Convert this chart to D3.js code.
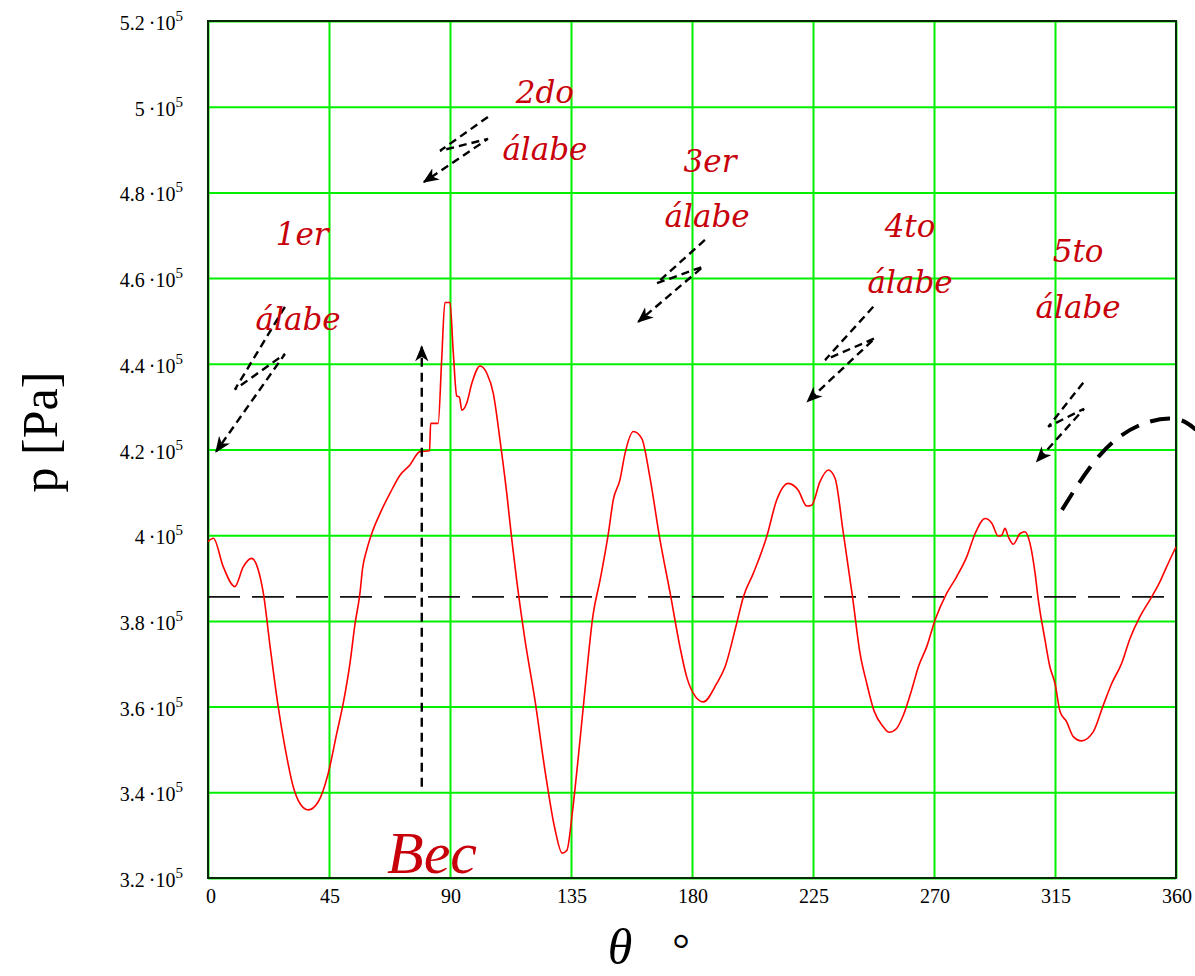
<!DOCTYPE html>
<html>
<head>
<meta charset="utf-8">
<script src="https://cdn.jsdelivr.net/npm/d3@7"></script>
<style>
  body { margin: 0; background: #fff; }
  svg { display: block; }
  .tick-label { font-family: "Liberation Serif", "Times New Roman", serif; fill: #000; }
  .blade { font-family: "DejaVu Serif", serif; font-style: italic; fill: #c8000a; font-size: 31px; }
</style>
</head>
<body>
<div id="chart"></div>
<script>
// Angle (deg) and pressure (Pa)
const theta = [0, 2, 5.7, 10, 13.1, 16.2, 18.7, 20.6, 23.1, 26.1, 28.6, 31.7, 34.2, 37.3, 41, 44.7,
  47.9, 50.3, 52.8, 54.7, 56.5, 57.5, 59, 60.9, 64, 67.7, 71.4, 75.1, 78.8, 82.4, 82.8, 85.6,
  86.9, 88.1, 90, 91.2, 92.5, 93.5, 94.4, 96.2, 98.1, 101.2, 103.7, 106.1, 108.6, 111.1, 113, 114.8,
  117.9, 121.6, 125.3, 129.1, 131.7, 133.5, 135.4, 137.6, 140.2, 143.2, 145.8, 148.9, 150.7, 153.2,
  155.1, 158.2, 161.3, 164.4, 168.1, 171.9, 175.5, 178, 180.5, 184.2, 189.2, 192.3, 196.6, 199.1,
  202.8, 207.8, 211.5, 215.8, 219.5, 222.7, 224.5, 227.6, 230.7, 233.2, 236.3, 239.7, 242.5, 245,
  247.7, 251.1, 253.3, 256.1, 258.6, 261.7, 264.2, 267.3, 270.4, 274.7, 278.4, 282.2, 285.3, 289,
  291.5, 293.9, 295.2, 296.4, 297.6, 299.5, 302, 303.8, 305.7, 307.6, 308.8, 311.3, 313.1, 315,
  316.9, 319.3, 321.8, 324.9, 329.2, 333, 336.1, 339.8, 342.9, 346.6, 350.3, 354, 356.5, 360];
const pressure = [398500, 399300, 392600, 388000, 392600, 394600, 391900, 386400, 374000, 360000,
  350600, 341300, 337400, 335900, 337800, 344400, 353800, 360800, 370100, 379400, 386400, 392300,
  396500, 400400, 405100, 409800, 414000, 416400, 419500, 419700, 426100, 426100, 440900, 454300,
  454300, 442800, 432500, 432200, 429200, 430800, 435400, 439500, 437800, 433100, 422200, 409800,
  398900, 389500, 375500, 361500, 345200, 331200, 325800, 326500, 334700, 347500, 363900, 381400,
  389500, 400400, 408200, 412900, 419100, 424200, 422600, 413300, 398900, 386400, 374000, 367000,
  363100, 361100, 365400, 369300, 379400, 385600, 391100, 399700, 408200, 412100, 410500, 406800,
  407000, 412500, 415200, 413300, 400400, 385600, 372400, 365400, 359000, 355300, 354000, 354900,
  358000, 363900, 369300, 374000, 380200, 386400, 390300, 395000, 400400, 403900, 402800, 399800,
  400000, 401600, 399700, 397900, 400400, 400800, 398100, 391100, 384900, 375500, 369300, 365400,
  358800, 356500, 353000, 352000, 354100, 360400, 365400, 370100, 375900, 381000, 384900, 389100,
  392600, 397300];

const xTicks = [0, 45, 90, 135, 180, 225, 270, 315, 360];
const yTicks = [3.2, 3.4, 3.6, 3.8, 4, 4.2, 4.4, 4.6, 4.8, 5, 5.2];
const meanPressure = 385600;

// blade annotations: text, label position (deg, Pa) for both lines, and arrow path
const bladeNames = ["1er", "2do", "3er", "4to", "5to"];
const bladeWord = "álabe";
const bladeLine1 = [[35, 467700], [125.3, 500900], [186.7, 484800], [261.1, 469600], [323.6, 463800]];
const bladeLine2 = [[33.5, 447900], [125.3, 487600], [185.6, 471900], [261.1, 456500], [323.6, 450700]];
const bladeArrows = [
  [[28.6, 453300], [10, 434000], [28.6, 442300], [3, 419500]],
  [[104.1, 497600], [86.3, 489700], [104.1, 492500], [80.3, 482400]],
  [[184.8, 468900], [166.9, 458800], [184.2, 462700], [160, 449800]],
  [[247.4, 453300], [229.5, 440900], [248.1, 446000], [222.9, 431200]],
  [[325.5, 435600], [312.5, 425300], [325.8, 429500], [308.2, 417200]]
];
const arcPoints = [[317.6, 405900], [331.7, 418700], [346.6, 425700], [360, 427100], [367.4, 424600]];
const becArrow = [[79.5, 341300], [79.5, 444000]];
const becLabel = [83.3, 321200];

const margin = {top: 21, right: 19, bottom: 98, left: 208};
const W = 1195, H = 976;
const width = W - margin.left - margin.right;
const height = H - margin.top - margin.bottom;

const svg = d3.select("#chart").append("svg")
  .attr("width", W).attr("height", H);

const defs = svg.append("defs");
defs.append("marker")
  .attr("id", "head")
  .attr("viewBox", "0 0 12 10")
  .attr("refX", 11).attr("refY", 5)
  .attr("markerWidth", 16).attr("markerHeight", 14)
  .attr("markerUnits", "userSpaceOnUse")
  .attr("orient", "auto")
  .append("path")
  .attr("d", "M0,0 L12,5 L0,10 L3.5,5 Z")
  .attr("fill", "#000");

const g = svg.append("g").attr("transform", `translate(${margin.left},${margin.top})`);

const x = d3.scaleLinear().domain([0, 360]).range([0, width]);
const y = d3.scaleLinear().domain([320000, 520000]).range([height, 0]);

// Grid
g.append("g")
  .attr("transform", `translate(0,${height})`)
  .call(d3.axisBottom(x).tickValues(xTicks).tickSize(-height).tickFormat(""))
  .call(a => a.select(".domain").remove())
  .selectAll("line").attr("stroke", "#00f000").attr("stroke-width", 2);

g.append("g")
  .call(d3.axisLeft(y).tickValues(yTicks.map(v => v * 1e5)).tickSize(-width).tickFormat(""))
  .call(a => a.select(".domain").remove())
  .selectAll("line").attr("stroke", "#00f000").attr("stroke-width", 2);

// Frame
g.append("rect")
  .attr("x", 0).attr("y", 0).attr("width", width).attr("height", height)
  .attr("fill", "none").attr("stroke", "#062806").attr("stroke-width", 2);

// X tick labels
g.selectAll(".xl").data(xTicks).enter().append("text")
  .attr("class", "tick-label")
  .attr("x", d => x(d) + (d === 0 ? 3 : 1))
  .attr("y", height + 25)
  .attr("text-anchor", "middle")
  .style("font-size", "20px")
  .text(d => d);

// Y tick labels with superscript exponent
const yl = g.selectAll(".yl").data(yTicks).enter().append("text")
  .attr("class", "tick-label")
  .attr("x", -25)
  .attr("y", d => y(d * 1e5) + 9)
  .attr("text-anchor", "end")
  .style("font-size", "20px");
yl.append("tspan").text(d => d + "\u2009\u00b710");
yl.append("tspan").attr("dy", -9).style("font-size", "15px").text("5");

// Mean line
g.append("line")
  .attr("x1", x(0)).attr("x2", x(358))
  .attr("y1", y(meanPressure)).attr("y2", y(meanPressure))
  .attr("stroke", "#111").attr("stroke-width", 1.6)
  .attr("stroke-dasharray", "32,12");

// Pressure curve
const line = d3.line()
  .x((d, i) => x(theta[i]))
  .y(d => y(d))
  .curve(d3.curveMonotoneX);
g.append("path")
  .datum(pressure)
  .attr("fill", "none")
  .attr("stroke", "#ff0000")
  .attr("stroke-width", 1.6)
  .attr("d", line);

// Blade annotations
const pt = d3.line().x(d => x(d[0])).y(d => y(d[1]));
bladeArrows.forEach(a => {
  g.append("path")
    .attr("d", pt(a))
    .attr("fill", "none")
    .attr("stroke", "#000")
    .attr("stroke-width", 2.4)
    .attr("stroke-dasharray", "8,5")
    .attr("marker-end", "url(#head)");
});

bladeNames.forEach((name, i) => {
  g.append("text").attr("class", "blade")
    .attr("x", x(bladeLine1[i][0])).attr("y", y(bladeLine1[i][1]))
    .attr("text-anchor", "middle").text(name);
  g.append("text").attr("class", "blade")
    .attr("x", x(bladeLine2[i][0])).attr("y", y(bladeLine2[i][1]))
    .attr("text-anchor", "middle").text(bladeWord);
});

// Big dashed arc at the right
g.append("path")
  .attr("d", d3.line().x(d => x(d[0])).y(d => y(d[1])).curve(d3.curveNatural)(arcPoints))
  .attr("fill", "none")
  .attr("stroke", "#000")
  .attr("stroke-width", 4)
  .attr("stroke-dasharray", "20,12");

// Vertical arrow and "Bec"
g.append("path")
  .attr("d", pt(becArrow))
  .attr("fill", "none")
  .attr("stroke", "#000")
  .attr("stroke-width", 2.4)
  .attr("stroke-dasharray", "9,6")
  .attr("marker-end", "url(#head)");

g.append("text")
  .attr("x", x(becLabel[0])).attr("y", y(becLabel[1]))
  .attr("text-anchor", "middle")
  .style("font-family", "'Liberation Serif', serif")
  .style("font-style", "italic")
  .style("font-size", "60px")
  .style("fill", "#c8000a")
  .text("Bec");

// Axis titles
svg.append("text")
  .attr("transform", "translate(57,432) rotate(-90)")
  .attr("text-anchor", "middle")
  .style("font-family", "'Liberation Serif', serif")
  .style("font-size", "50px")
  .text("p [Pa]");

svg.append("text")
  .attr("x", 620).attr("y", 964)
  .attr("text-anchor", "middle")
  .style("font-family", "'Liberation Serif', serif")
  .style("font-style", "italic")
  .style("font-size", "50px")
  .text("θ");
svg.append("text")
  .attr("x", 681).attr("y", 964)
  .attr("text-anchor", "middle")
  .style("font-family", "'Liberation Serif', serif")
  .style("font-size", "44px")
  .text("°");
</script>
</body>
</html>
